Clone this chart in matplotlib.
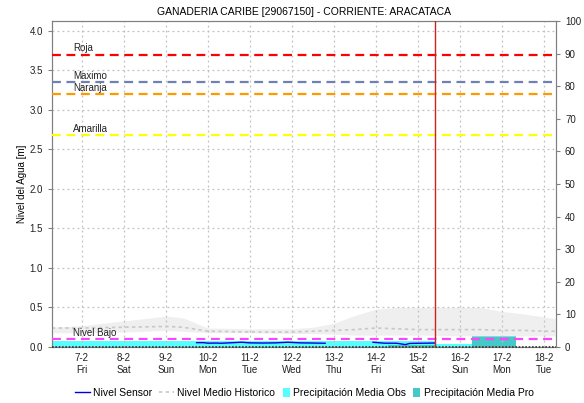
import matplotlib
matplotlib.use("Agg")
import matplotlib.pyplot as plt
from matplotlib.patches import Patch
from matplotlib.lines import Line2D
import numpy as np

plt.rcParams['font.family'] = ['Liberation Sans', 'DejaVu Sans']

title = "GANADERIA CARIBE [29067150] - CORRIENTE: ARACATACA"
tick_labels = ["7-2\nFri", "8-2\nSat", "9-2\nSun", "10-2\nMon", "11-2\nTue", "12-2\nWed",
               "13-2\nThu", "14-2\nFri", "15-2\nSat", "16-2\nSun", "17-2\nMon", "18-2\nTue"]

# time in days relative to 7-2 00:00
x_start, x_end = -0.714, 11.286
now_x = 8.40

thr_names = ["Roja", "Maximo", "Naranja", "Amarilla", "Nivel Bajo"]
thr_values = [3.70, 3.35, 3.20, 2.68, 0.10]
thr_colors = ["#ff0000", "#7080b0", "#ff9900", "#ffff00", "#ff44ff"]
thr_label_y = [3.72, 3.37, 3.21, 2.70, 0.12]

# historical band & median (m)
hist_x = [-0.714, 0.0, 1.0, 2.0, 2.4, 3.0, 4.0, 5.0, 5.5, 6.0, 6.5, 7.0, 7.5, 8.0, 9.0, 9.5, 10.0, 10.5, 11.0, 11.286]
hist_hi = [0.25, 0.27, 0.33, 0.39, 0.37, 0.24, 0.23, 0.23, 0.25, 0.30, 0.40, 0.48, 0.50, 0.50, 0.50, 0.50, 0.45, 0.42, 0.38, 0.36]
hist_lo = [0.18, 0.18, 0.19, 0.21, 0.20, 0.18, 0.18, 0.17, 0.17, 0.16, 0.15, 0.15, 0.15, 0.15, 0.14, 0.14, 0.14, 0.14, 0.14, 0.14]
hist_med = [0.24, 0.24, 0.25, 0.26, 0.25, 0.20, 0.19, 0.19, 0.20, 0.21, 0.22, 0.24, 0.23, 0.22, 0.22, 0.22, 0.21, 0.21, 0.20, 0.20]

# sensor (m)
sens1_x = [2.73, 2.9, 3.0, 3.2, 3.3, 3.5, 3.8, 4.0, 4.3, 4.6, 4.9, 5.2, 5.5, 5.79]
sens1_y = [0.055, 0.055, 0.048, 0.050, 0.047, 0.052, 0.060, 0.052, 0.050, 0.052, 0.060, 0.052, 0.050, 0.047]
sens2_x = [6.93, 7.2, 7.5, 7.7, 7.8, 8.0, 8.2, 8.40]
sens2_y = [0.060, 0.048, 0.047, 0.030, 0.045, 0.047, 0.048, 0.050]

# precipitation (mm), daily bars
obs_left = [-0.714, 0.286, 1.286, 2.286, 3.286, 4.286, 5.286, 6.286, 7.286, 8.40]
obs_width = [1, 1, 1, 1, 1, 1, 1, 1, 1.114, 0.886]
obs_vals = [1.7, 1.7, 1.7, 1.7, 1.7, 1.7, 1.7, 1.7, 1.7, 1.0]
pro_left = [7.286, 9.286]
pro_width = [1.114, 1.05]
pro_vals = [0.5, 4.4]

fig = plt.figure(figsize=(5.84, 4.03), dpi=100)
ax = fig.add_axes([0.089, 0.139, 0.863, 0.809])
ax2 = ax.twinx()
ax.set_zorder(ax2.get_zorder() + 1)
ax.patch.set_visible(False)

ymax = 4.127
ax.set_xlim(x_start, x_end)
ax.set_ylim(0, ymax)
ax2.set_ylim(0, 100)

# precipitation on right axis
ax2.bar(obs_left, obs_vals, width=obs_width, align='edge', color='#55ffff', edgecolor='none')
ax2.bar(pro_left, pro_vals, width=pro_width, align='edge', color='#44c8c8', edgecolor='none')

# grid
ax.set_xticks(range(12))
ax.set_xticklabels(tick_labels, linespacing=1.25)
ax.set_yticks(np.arange(0, 4.01, 0.5))
ax.set_yticklabels([f"{v:.1f}" for v in np.arange(0, 4.01, 0.5)])
ax.grid(True, color='#c0c0c0', linestyle=(0, (1.5, 2.5)), linewidth=0.9)

# historical
ax.fill_between(hist_x, hist_lo, hist_hi, color='#efefef', linewidth=0, zorder=1)
ax.plot(hist_x, hist_med, color='#c8c8c8', linestyle=(0, (2, 2)), linewidth=1.2, zorder=2)

# thresholds
for n, v, c, ly in zip(thr_names, thr_values, thr_colors, thr_label_y):
    ax.axhline(v, color=c, linestyle=(0, (4, 2.5)), linewidth=1.6, zorder=3)
    ax.text(-0.21, ly, n, fontsize=7, color='#222222', va='bottom', ha='left', zorder=4)

# sensor
ax.plot(sens1_x, sens1_y, color='#0000dd', linewidth=1.0, zorder=5)
ax.plot(sens2_x, sens2_y, color='#0000dd', linewidth=1.0, zorder=5)
ax.plot([x_start, x_end], [0.004, 0.004], color='#333333', linestyle=(0, (1, 1)), linewidth=1.2, zorder=5, clip_on=False)

# now line
ax.axvline(now_x, color='#cc2222', linewidth=1.0, zorder=6)

for a in (ax, ax2):
    for s in a.spines.values():
        s.set_color('#808080')
ax.tick_params(axis='both', labelsize=7, colors='#222222', length=3, width=0.8)
ax.tick_params(axis='x', length=0, pad=4)
ax2.tick_params(axis='y', labelsize=7, colors='#222222', length=3, width=0.8)
ax2.set_yticks(range(0, 101, 10))
ax.tick_params(axis='y', color='#808080')
ax2.tick_params(axis='y', color='#808080')

ax.set_ylabel("Nivel del Agua [m]", fontsize=7, labelpad=2)
ax2.set_ylabel("Precipitación [mm]", fontsize=7, labelpad=12)
ax.set_title(title, fontsize=7.5, pad=4)

line_handles = [Line2D([], [], color='#0000dd', linewidth=1.0),
                Line2D([], [], color='#c8c8c8', linestyle=(0, (2, 2)), linewidth=1.2)]
line_labels = ["Nivel Sensor", "Nivel Medio Historico"]
patch_handles = [Patch(facecolor='#55ffff', edgecolor='none'),
                 Patch(facecolor='#44c8c8', edgecolor='none')]
patch_labels = ["Precipitación Media Obs", "Precipitación Media Pro"]
leg_y = 1 - 393 / 403
leg1 = fig.legend(line_handles, line_labels, loc='center left', bbox_to_anchor=(75 / 584, leg_y), ncol=2,
                  frameon=False, fontsize=7.5, handlelength=1.45, handletextpad=0.3, columnspacing=0.65,
                  borderpad=0, borderaxespad=0)
leg2 = fig.legend(patch_handles, patch_labels, loc='center left', bbox_to_anchor=(283 / 584, leg_y), ncol=2,
                  frameon=False, fontsize=7.5, handlelength=0.7, handleheight=1.0, handletextpad=0.3,
                  columnspacing=0.65, borderpad=0, borderaxespad=0)

fig.savefig("out.png", dpi=100)
